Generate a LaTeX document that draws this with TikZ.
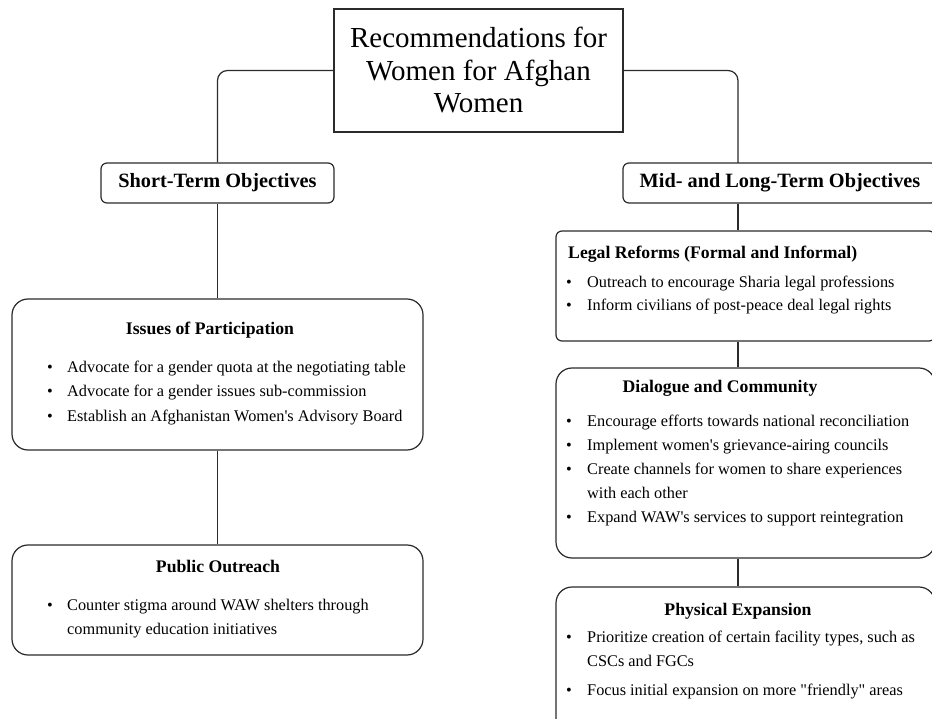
\documentclass[tikz,border=0pt]{standalone}
\usepackage{fontspec}
\setmainfont{Liberation Serif}[Ligatures=TeXOff]
\definecolor{edge}{HTML}{2B2B2B}
\begin{document}
\begin{tikzpicture}[x=1pt,y=-1pt,
  frame/.style={draw=edge, line width=1.2pt, inner sep=0pt, fill=white},
  conn/.style={draw=edge, line width=1.2pt},
  objfont/.style={font=\fontsize{20.3}{24}\selectfont\bfseries},
  head/.style={inner sep=0pt, text height=12.5pt, text depth=4pt, font=\fontsize{17.7}{21}\selectfont\bfseries},
  item/.style={inner sep=0pt, anchor=west, text height=11.5pt, text depth=4pt, font=\fontsize{16.3}{20}\selectfont},
]
\useasboundingbox (0,0) rectangle (932,719);
% boxes
\node[frame, minimum width=289pt, minimum height=123pt, align=center,
      font=\fontsize{29}{32.5}\selectfont] (title) at (478.5,70.5)
      {Recommendations for\\Women for Afghan\\Women};
\node[frame, rounded corners=6pt, minimum width=233pt, minimum height=40pt, objfont] (short) at (217.5,183) {Short-Term Objectives};
\node[frame, rounded corners=6pt, minimum width=314pt, minimum height=40pt, objfont] (mid) at (780,183) {Mid- and Long-Term Objectives};
\node[frame, rounded corners=16pt, minimum width=411pt, minimum height=151pt] (issues) at (217.5,374.5) {};
\node[frame, rounded corners=16pt, minimum width=411pt, minimum height=110pt] (public) at (217.5,600) {};
\node[frame, rounded corners=6pt, minimum width=379pt, minimum height=110pt] (legal) at (745.5,286) {};
\node[frame, rounded corners=16pt, minimum width=379pt, minimum height=190pt] (dialogue) at (745.5,463) {};
\node[frame, rounded corners=16pt, minimum width=379pt, minimum height=153pt] (physical) at (745.5,663.5) {};
\coordinate (midjoin) at (738,163);
% connectors
\draw[conn, rounded corners=10pt] (title.west) -| (short.north);
\draw[conn, rounded corners=10pt] (title.east) -| (midjoin);
\draw[conn] (short.south) -- (issues.north);
\draw[conn] (issues.south) -- (public.north);
\draw[conn] (midjoin |- mid.south) -- (midjoin |- legal.north);
\draw[conn] (midjoin |- legal.south) -- (midjoin |- dialogue.north);
\draw[conn] (midjoin |- dialogue.south) -- (midjoin |- physical.north);
% left texts
\node[head] (issuesh) at (210,330) {Issues of Participation};
\node[item] (i1) at (47,369) {\makebox[20pt][l]{•}Advocate for a gender quota at the negotiating table};
\node[item] (i2) at (47,393) {\makebox[20pt][l]{•}Advocate for a gender issues sub-commission};
\node[item] (i3) at (47,418) {\makebox[20pt][l]{•}Establish an Afghanistan Women's Advisory Board};
\node[head] (publich) at (218,568) {Public Outreach};
\node[item] (p1) at (47,607) {\makebox[20pt][l]{•}Counter stigma around WAW shelters through};
\node[item] (p1b) at (67,631) {community education initiatives};
% right texts
\node[head, anchor=west] (legalh) at (568,254) {Legal Reforms (Formal and Informal)};
\node[item] (l1) at (566,284) {\makebox[21pt][l]{•}Outreach to encourage Sharia legal professions};
\node[item] (l2) at (566,307) {\makebox[21pt][l]{•}Inform civilians of post-peace deal legal rights};
\node[head] (dialogueh) at (720,388) {Dialogue and Community};
\node[item] (d1) at (566,423) {\makebox[21pt][l]{•}Encourage efforts towards national reconciliation};
\node[item] (d2) at (566,447) {\makebox[21pt][l]{•}Implement women's grievance-airing councils};
\node[item] (d3) at (566,471) {\makebox[21pt][l]{•}Create channels for women to share experiences};
\node[item] (d3b) at (587,495) {with each other};
\node[item] (d4) at (566,519) {\makebox[21pt][l]{•}Expand WAW's services to support reintegration};
\node[head] (physicalh) at (738,611) {Physical Expansion};
\node[item] (f1) at (566,639) {\makebox[21pt][l]{•}Prioritize creation of certain facility types, such as};
\node[item] (f1b) at (587,663) {CSCs and FGCs};
\node[item] (f2) at (566,692) {\makebox[21pt][l]{•}Focus initial expansion on more "friendly" areas};
\end{tikzpicture}
\end{document}
